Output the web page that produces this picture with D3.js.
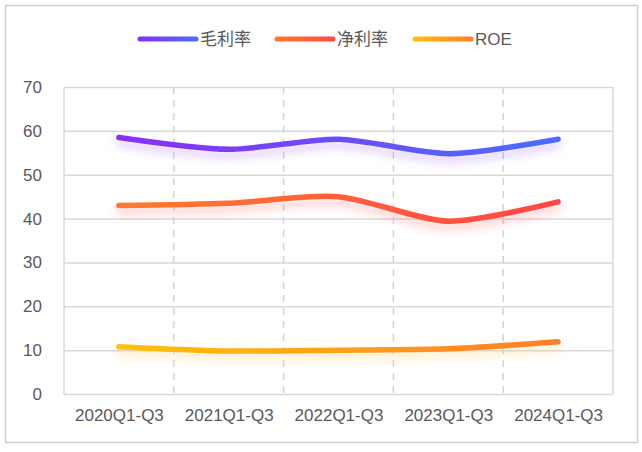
<!DOCTYPE html>
<html><head><meta charset="utf-8">
<script src="https://cdn.jsdelivr.net/npm/d3@7"></script>
<style>
html,body{margin:0;padding:0;background:#fff;}
svg{display:block;font-family:"Liberation Sans",Arial,sans-serif;}
</style></head>
<body>
<svg id="chart" width="642" height="452"></svg>
<script>
const categories = ["2020Q1-Q3","2021Q1-Q3","2022Q1-Q3","2023Q1-Q3","2024Q1-Q3"];
const grossMargin = [58.5, 55.8, 58.1, 54.8, 58.1];
const netMargin = [43.0, 43.5, 45.0, 39.4, 43.8];
const roe = [10.8, 9.8, 10.0, 10.3, 11.9];
const seriesNames = ["毛利率","净利率","ROE"];
const yTicks = [0,10,20,30,40,50,60,70];

const series = [
  {name: seriesNames[0], values: grossMargin, c0: "#8A2EF6", c1: "#4A6DFB", shadow: "#9B5CFF"},
  {name: seriesNames[1], values: netMargin, c0: "#FF7A2C", c1: "#FF4646", shadow: "#FF5A5A"},
  {name: seriesNames[2], values: roe, c0: "#FFC10A", c1: "#FF7D2A", shadow: "#FFC43A"}
];

const svg = d3.select("#chart");
const defs = svg.append("defs");
const L = 64, R = 613, T = 87, B = 394;

// outer border
svg.append("rect").attr("x",5.5).attr("y",5.5).attr("width",632).attr("height",437)
  .attr("fill","none").attr("stroke","#cfcfcf").attr("stroke-width",1.5);

const x = d3.scalePoint().domain(categories).range([L,R]).padding(0.5);
const y = d3.scaleLinear().domain([0,70]).range([B,T]);
const step = x.step();

// gradients
series.forEach((s,i)=>{
  const g = defs.append("linearGradient").attr("id","g"+i)
    .attr("gradientUnits","userSpaceOnUse").attr("x1",x(categories[0])).attr("x2",x(categories[4])).attr("y1",0).attr("y2",0);
  g.append("stop").attr("offset","0").attr("stop-color",s.c0);
  g.append("stop").attr("offset","1").attr("stop-color",s.c1);
  const lg = defs.append("linearGradient").attr("id","lg"+i).attr("x1",0).attr("x2",1).attr("y1",0).attr("y2",0);
  lg.append("stop").attr("offset","0").attr("stop-color",s.c0);
  lg.append("stop").attr("offset","1").attr("stop-color",s.c1);
  const f = defs.append("filter").attr("id","sh"+i).attr("x","-10%").attr("y","-100%").attr("width","120%").attr("height","400%");
  f.append("feDropShadow").attr("dx",0).attr("dy",6).attr("stdDeviation",4)
    .attr("flood-color",s.shadow).attr("flood-opacity",0.35);
});

// horizontal grid
const yAxis = d3.axisLeft(y).tickValues(yTicks).tickSize(-(R-L)).tickPadding(22);
const ga = svg.append("g").attr("transform",`translate(${L},0)`).call(yAxis);
ga.select(".domain").remove();
ga.selectAll(".tick line").attr("stroke","#d9d9d9").attr("stroke-width",1.5);
ga.selectAll(".tick text").attr("fill","#595959").attr("font-size",17).attr("font-family","Liberation Sans, Arial, sans-serif");

// frame
svg.append("line").attr("x1",L).attr("x2",L).attr("y1",T).attr("y2",B).attr("stroke","#d9d9d9").attr("stroke-width",1.5);
svg.append("line").attr("x1",R).attr("x2",R).attr("y1",T).attr("y2",B).attr("stroke","#d9d9d9").attr("stroke-width",1.5);

// vertical dashed separators
const seps = categories.slice(1).map(c => x(c) - step/2);
svg.append("g").selectAll("line").data(seps).join("line")
  .attr("x1",d=>d).attr("x2",d=>d).attr("y1",T).attr("y2",B)
  .attr("stroke","#d4d4d4").attr("stroke-width",1.5).attr("stroke-dasharray","7,6");

// x axis labels
const xAxis = d3.axisBottom(x).tickSize(0).tickPadding(15);
const gx = svg.append("g").attr("transform",`translate(0,${B})`).call(xAxis);
gx.select(".domain").remove();
gx.selectAll(".tick text").attr("fill","#595959").attr("font-size",17).attr("font-family","Liberation Sans, Arial, sans-serif");

// lines
const line = d3.line().x((d,i)=>x(categories[i])).y(d=>y(d)).curve(d3.curveCardinal.tension(0.2));
series.slice().reverse().forEach((s)=>{
  const i = series.indexOf(s);
  svg.append("path").datum(s.values).attr("d",line)
    .attr("fill","none").attr("stroke",`url(#g${i})`).attr("stroke-width",5.5)
    .attr("stroke-linecap","round").attr("stroke-linejoin","round")
    .attr("filter",`url(#sh${i})`);
});

// legend
const legendX = [140, 277, 415];
const lg = svg.append("g");
series.forEach((s,i)=>{
  const g = lg.append("g").attr("transform",`translate(${legendX[i]},39)`);
  g.append("rect").attr("x",-2.5).attr("y",-2.5).attr("width",61).attr("height",5).attr("rx",2.5)
    .attr("fill",`url(#lg${i})`);
  g.append("text").attr("x",60).attr("y",0).attr("dy","0.35em").text(s.name)
    .attr("fill","#595959").attr("font-size",17)
    .attr("font-family", i<2 ? "Noto Sans CJK SC, sans-serif" : "Liberation Sans, Arial, sans-serif");
});
</script>
</body></html>
